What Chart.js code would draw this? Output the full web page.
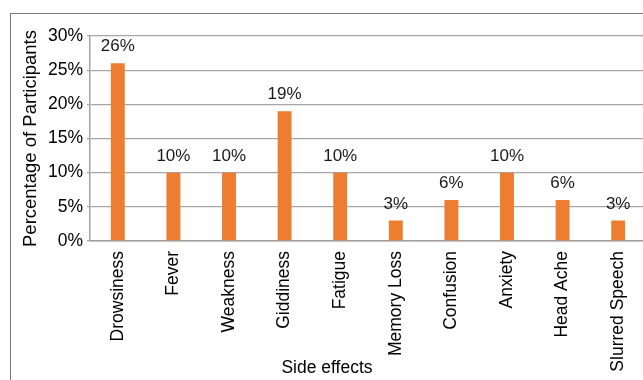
<!DOCTYPE html>
<html>
<head>
<meta charset="utf-8">
<script src="https://cdn.jsdelivr.net/npm/chart.js@4.4.1/dist/chart.umd.min.js"></script>
<style>
    html, body { margin: 0; padding: 0; background: #fff; overflow: hidden; width: 643px; height: 380px; }
    #frame { position: absolute; left: 10px; top: 13px; width: 700px; height: 400px;
             border-left: 1.5px solid #7a7a7a; border-top: 1.5px solid #7a7a7a; }
    #chart { position: absolute; left: 0; top: 0; }
</style>
</head>
<body>
<div id="frame"></div>
<canvas id="chart" width="660" height="380"></canvas>
<script>
const categories = ['Drowsiness', 'Fever', 'Weakness', 'Giddiness', 'Fatigue',
    'Memory Loss', 'Confusion', 'Anxiety', 'Head Ache', 'Slurred Speech'];
const percentages = [26, 10, 10, 19, 10, 3, 6, 10, 6, 3];
const yTicks = [0, 5, 10, 15, 20, 25, 30];

const FONT = "'Liberation Sans', Arial, sans-serif";

// Value labels above each bar
const barLabels = {
    id: 'barLabels',
    afterDatasetsDraw(chart) {
        const ctx = chart.ctx;
        const meta = chart.getDatasetMeta(0);
        ctx.save();
        ctx.font = '17px ' + FONT;
        ctx.fillStyle = '#1a1a1a';
        ctx.textAlign = 'center';
        ctx.textBaseline = 'alphabetic';
        meta.data.forEach((bar, i) => {
            ctx.fillText(percentages[i] + '%', bar.x, bar.y - 12);
        });
        ctx.restore();
    }
};

new Chart(document.getElementById('chart'), {
    type: 'bar',
    data: {
        labels: categories,
        datasets: [{
            data: percentages,
            backgroundColor: '#ED7D31',
            categoryPercentage: 1,
            barPercentage: 0.25
        }]
    },
    options: {
        responsive: false,
        animation: false,
        devicePixelRatio: 1,
        layout: { padding: { left: 8, right: 14, top: 36, bottom: 0 } },
        plugins: {
            legend: { display: false },
            tooltip: { enabled: false },
            title: {
                // zero-height box so the rotated tick labels keep the full bottom band
                display: true,
                position: 'bottom',
                text: 'Side effects',
                color: '#000',
                font: { family: FONT, size: 17.5, weight: 'normal' },
                padding: { top: -22.5, bottom: 1.5 }
            }
        },
        scales: {
            x: {
                grid: { display: false },
                border: { display: true, color: '#a0a0a0', width: 1.5 },
                ticks: {
                    color: '#000',
                    font: { family: FONT, size: 17.5 },
                    minRotation: 90,
                    maxRotation: 90,
                    autoSkip: false,
                    padding: 2
                },
                afterFit(scale) { scale.height = 139; }
            },
            y: {
                min: 0,
                max: 30,
                afterBuildTicks(scale) { scale.ticks = yTicks.map(v => ({ value: v })); },
                grid: { color: '#a6a6a6', lineWidth: 1.3, tickLength: 3 },
                border: { display: true, color: '#a0a0a0', width: 1.5 },
                ticks: {
                    color: '#000',
                    font: { family: FONT, size: 17.5 },
                    padding: 4,
                    callback: v => v + '%'
                },
                title: {
                    display: true,
                    text: 'Percentage of Participants',
                    color: '#000',
                    font: { family: FONT, size: 18.5 },
                    padding: { top: 12, bottom: 0 }
                },
                afterFit(scale) { scale.width = 82; }
            }
        }
    },
    plugins: [barLabels]
});
</script>
</body>
</html>
